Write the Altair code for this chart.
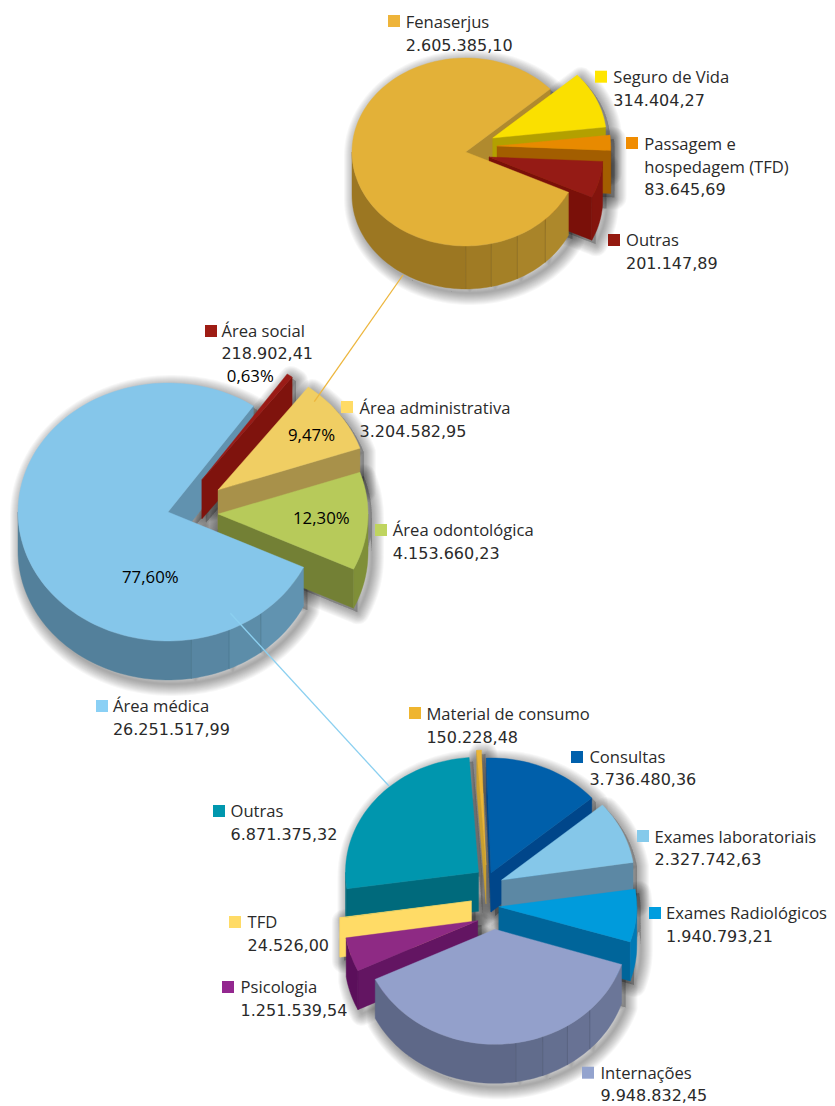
import math
import altair as alt

# ---------- data ----------
top_names = ["Seguro de Vida", "Passagem e hospedagem (TFD)", "Outras", "Fenaserjus"]
top_values = [314404.27, 83645.69, 201147.89, 2605385.10]
mid_names = ["Área social", "Área administrativa", "Área odontológica", "Área médica"]
mid_values = [218902.41, 3204582.95, 4153660.23, 26251517.99]
low_names = ["Exames Radiológicos", "Internações", "Psicologia", "TFD", "Outras",
             "Material de consumo", "Consultas", "Exames laboratoriais"]
low_values = [1940793.21, 9948832.45, 1251539.54, 24526.00, 6871375.32,
              150228.48, 3736480.36, 2327742.63]
label_titles = [
    ["Fenaserjus"], ["Seguro de Vida"], ["Passagem e", "hospedagem (TFD)"], ["Outras"],
    ["Área social"], ["Área administrativa"], ["Área odontológica"], ["Área médica"],
    ["Material de consumo"], ["Consultas"], ["Exames laboratoriais"], ["Exames Radiológicos"],
    ["Internações"], ["Psicologia"], ["TFD"], ["Outras"],
]
label_amounts = ["2.605.385,10", "314.404,27", "83.645,69", "201.147,89",
                 "218.902,41", "3.204.582,95", "4.153.660,23", "26.251.517,99",
                 "150.228,48", "3.736.480,36", "2.327.742,63", "1.940.793,21",
                 "9.948.832,45", "1.251.539,54", "24.526,00", "6.871.375,32"]
percent_labels = ["0,63%", "9,47%", "12,30%", "77,60%"]

# ---------- layout and style ----------
W, H = 819, 1098
FONT = "Open Sans"
NUM_FONT = "DejaVu Sans"
FS = 16.6
LINE = 22.7
label_xy = [(405.7, 28), (613.3, 83.3), (644.3, 150), (626, 246),
            (221.4, 336.7), (359.6, 414), (392.8, 536), (112.9, 712),
            (426.4, 720), (589.4, 762.7), (654.5, 842.7), (666, 919),
            (600.4, 1078.7), (240.6, 993), (247.6, 928.3), (230.5, 817.3)]
swatch_xy = [(394, 21), (601, 76.7), (632, 143), (614, 240),
             (211, 331), (347, 407), (381, 530), (102, 706),
             (415, 713), (577, 757), (643, 836), (655, 913),
             (588, 1072.7), (228, 987), (235, 922), (219, 811)]
swatch_colors = ["#EEB43A", "#FFE500", "#F08C00", "#94190F", "#9E1C14", "#FFDB66", "#BFD45F", "#8AD0F5",
                 "#EFB52F", "#0060AC", "#85CAEB", "#009DDF", "#93A3CE", "#93278F", "#FFDB66", "#0097AE"]
percent_xy = [(226.8, 382), (288, 441), (293, 524), (122, 583)]

pies = [
    dict(values=top_values, start=-42, rx=[113.7] * 4, ry=94, depth=43,
         apex=[(492.7, 138), (497, 146), (489, 157), (465.7, 152)],
         top=["#FAE000", "#E88A00", "#951B15", "#E3B138"],
         wall=["#B3A000", "#A35E00", "#7A1009", "#B08A2E"],
         rim=["#B3A000", "#A35E00", "#83140D", "#9C7722"],
         rim_light="#AD882B", facets=[90, 77, 63, 45.6], order=[0, 1, 2], back=3, line="#8A6A20"),
    dict(values=mid_values, start=-55.3, rx=[150] * 4, ry=129, depth=39,
         apex=[(201.8, 480), (218, 490), (218, 514), (168, 512)],
         top=["#9A1B16", "#F0CE63", "#B7CA5A", "#85C6EA"],
         wall=["#7F130D", "#A8914A", "#738035", "#6192AF"],
         rim=["#7F130D", "#A8914A", "#7F8F38", "#53809B"],
         rim_light="#6193B0", facets=[81, 66, 51.8], order=[0, 1, 2], back=3, line="#4C7890"),
    dict(values=low_values, start=-8.8, rx=[138, 133, 133, 133, 133, 133, 133, 133], ry=115, depth=39,
         apex=[(498.8, 906.7), (495, 929.3), (477.7, 920.7), (471.5, 901),
               (478.5, 872.3), (486, 865), (491, 873), (501.6, 880)],
         top=["#009BDC", "#93A0CB", "#8E2A84", "#FFDB66", "#0096AE", "#EBB535", "#005FAA", "#85C7E9"],
         wall=["#00659A", "#5F6A8A", "#631562", "#FFDB66", "#006A7C", "#C9A030", "#00468A", "#5C88A4"],
         rim=["#0079B5", "#5E6888", "#5B0F5B", "#FFDB66", "#006A7C", "#C9A030", "#00468A", "#5C88A4"],
         rim_light="#6B7698", facets=[81, 69, 57, 44.6], order=[4, 5, 6, 7, 0, 3, 2], back=1, line="#525C7A"),
]
connectors = [((403, 275), (314.3, 401.7), "#EDB63D"),
              ((230.4, 613.3), (389, 786), "#8CD0F0")]


def mix(c1, c2, f):
    a = [int(c1[i:i + 2], 16) for i in (1, 3, 5)]
    b = [int(c2[i:i + 2], 16) for i in (1, 3, 5)]
    return "#%02X%02X%02X" % tuple(round(x + (y - x) * f) for x, y in zip(a, b))


def feature(coords, kind="Polygon", fill="transparent", stroke="transparent", sw=0.0, fo=1.0, so=1.0):
    return {"type": "Feature",
            "geometry": {"type": kind, "coordinates": coords},
            "properties": {"fill": fill, "stroke": stroke, "sw": sw, "fo": fo, "so": so}}


def arc(cx, cy, rx, ry, a, b):
    n = max(2, int(abs(b - a) / 2) + 1)
    return [[cx + rx * math.cos(math.radians(a + (b - a) * i / n)),
             cy + ry * math.sin(math.radians(a + (b - a) * i / n))] for i in range(n + 1)]


def ring(pts):
    return [list(p) for p in pts] + [list(pts[0])]


def slice_geometry(p, i, a, b):
    cx, cy = p["apex"][i]
    rx, ry, d = p["rx"][i], p["ry"], p["depth"]
    outline = arc(cx, cy, rx, ry, a, b)
    top = ring([[cx, cy]] + outline)
    bottom = ring([[cx, cy + d]] + [[x, y + d] for x, y in outline])
    walls = []
    for t, visible in ((a, math.cos(math.radians(a)) < 0), (b, math.cos(math.radians(b)) > 0)):
        if visible:
            tx = cx + rx * math.cos(math.radians(t))
            ty = cy + ry * math.sin(math.radians(t))
            walls.append(ring([[cx, cy], [tx, ty], [tx, ty + d], [cx, cy + d]]))
    lo, hi = max(a, 0), min(b, 180)
    bands = []
    if hi > lo:
        inner = sorted(f for f in p["facets"] if lo < f < hi) if i == p["back"] else []
        cuts = [lo] + inner + [hi]
        for k in range(len(cuts) - 1):
            upper = arc(cx, cy, rx, ry, cuts[k], cuts[k + 1])
            lower = [[x, y + d] for x, y in reversed(upper)]
            bands.append((ring(upper + lower), k, len(cuts) - 1))
    return top, bottom, walls, bands


features = [feature([[[8, 8], [8 + W, 8], [8 + W, 8 + H], [8, 8 + H], [8, 8]]])]
shadow_features = []
for p in pies:
    total = sum(p["values"])
    angle = p["start"]
    geos = []
    for i, v in enumerate(p["values"]):
        span = 360 * v / total
        geos.append(slice_geometry(p, i, angle, angle + span))
        angle += span
    for top, bottom, walls, bands in geos:
        shape = [[top], [bottom]] + [[w] for w in walls] + [[b[0]] for b in bands]
        shifted = [[[[x + 4, y + 4] for x, y in r] for r in poly] for poly in shape]
        for width in range(24, 0, -2):
            shadow_features.append(feature(shifted, "MultiPolygon", "#000000", "#000000", width, 0.02, 0.032))

    def emit_walls(i):
        for w in geos[i][2]:
            features.append(feature([w], fill=p["wall"][i], stroke=p["wall"][i], sw=0.4))

    def emit_rest(i):
        for band, k, n in geos[i][3]:
            col = p["rim"][i]
            if i == p["back"]:
                # bands run from the cut edge (light) to the far side (dark)
                col = mix(p["rim_light"], p["rim"][i], k / max(1, n - 1))
            features.append(feature([band], fill=col, stroke=col, sw=0.4))
        cx, cy = p["apex"][i]
        if i == p["back"]:
            for f in p["facets"]:
                x = cx + p["rx"][i] * math.cos(math.radians(f))
                y = cy + p["ry"] * math.sin(math.radians(f))
                features.append(feature([[x, y], [x, y + p["depth"]]], "LineString", stroke=p["line"], sw=0.7))
        features.append(feature([geos[i][0]], fill=p["top"][i], stroke=p["top"][i], sw=0.4))

    emit_walls(p["back"])
    for i in p["order"]:
        emit_walls(i)
        emit_rest(i)
    emit_rest(p["back"])

for a, b, col in connectors:
    features.append(feature([list(a), list(b)], "LineString", stroke=col, sw=1.3))

all_features = features[:1] + shadow_features + features[1:]

title_rows, amount_rows = [], []
for lines, amount, (x, y) in zip(label_titles, label_amounts, label_xy):
    for k, line in enumerate(lines):
        title_rows.append({"lon": x, "lat": y + k * LINE, "text": line})
    amount_rows.append({"lon": x, "lat": y + len(lines) * LINE, "text": amount})
pct_rows = [{"lon": x, "lat": y, "text": t} for t, (x, y) in zip(percent_labels, percent_xy)]
swatch_rows = [{"lon": x, "lat": y, "c": c} for (x, y), c in zip(swatch_xy, swatch_colors)]

shapes = alt.Chart(alt.InlineData(values={"type": "FeatureCollection", "features": all_features},
                                  format=alt.DataFormat(property="features", type="json"))).mark_geoshape(
    strokeJoin="round", strokeCap="butt").encode(
    fill=alt.Fill("properties.fill:N", scale=None),
    stroke=alt.Stroke("properties.stroke:N", scale=None),
    strokeWidth=alt.StrokeWidth("properties.sw:Q", scale=None),
    fillOpacity=alt.FillOpacity("properties.fo:Q", scale=None),
    strokeOpacity=alt.StrokeOpacity("properties.so:Q", scale=None),
)
swatches = alt.Chart(alt.Data(values=swatch_rows)).mark_square(size=144, opacity=1, filled=True).encode(
    longitude="lon:Q", latitude="lat:Q", color=alt.Color("c:N", scale=None))
titles = alt.Chart(alt.Data(values=title_rows)).mark_text(
    align="left", baseline="alphabetic", font=FONT, fontSize=FS, color="#2A2A2A").encode(
    longitude="lon:Q", latitude="lat:Q", text="text:N")
amounts = alt.Chart(alt.Data(values=amount_rows)).mark_text(
    align="left", baseline="alphabetic", font=NUM_FONT, fontSize=16.0, color="#2A2A2A").encode(
    longitude="lon:Q", latitude="lat:Q", text="text:N")
pcts = alt.Chart(alt.Data(values=pct_rows)).mark_text(
    align="left", baseline="alphabetic", font=FONT, fontSize=16.8, color="#000000").encode(
    longitude="lon:Q", latitude="lat:Q", text="text:N")

chart = alt.layer(shapes, swatches, titles, amounts, pcts).project(type="identity").properties(
    width=W, height=H, padding=0, autosize=alt.AutoSizeParams(type="none")
).configure_view(stroke=None)

chart.save("out.html", embed_options={"renderer": "svg", "actions": False})
